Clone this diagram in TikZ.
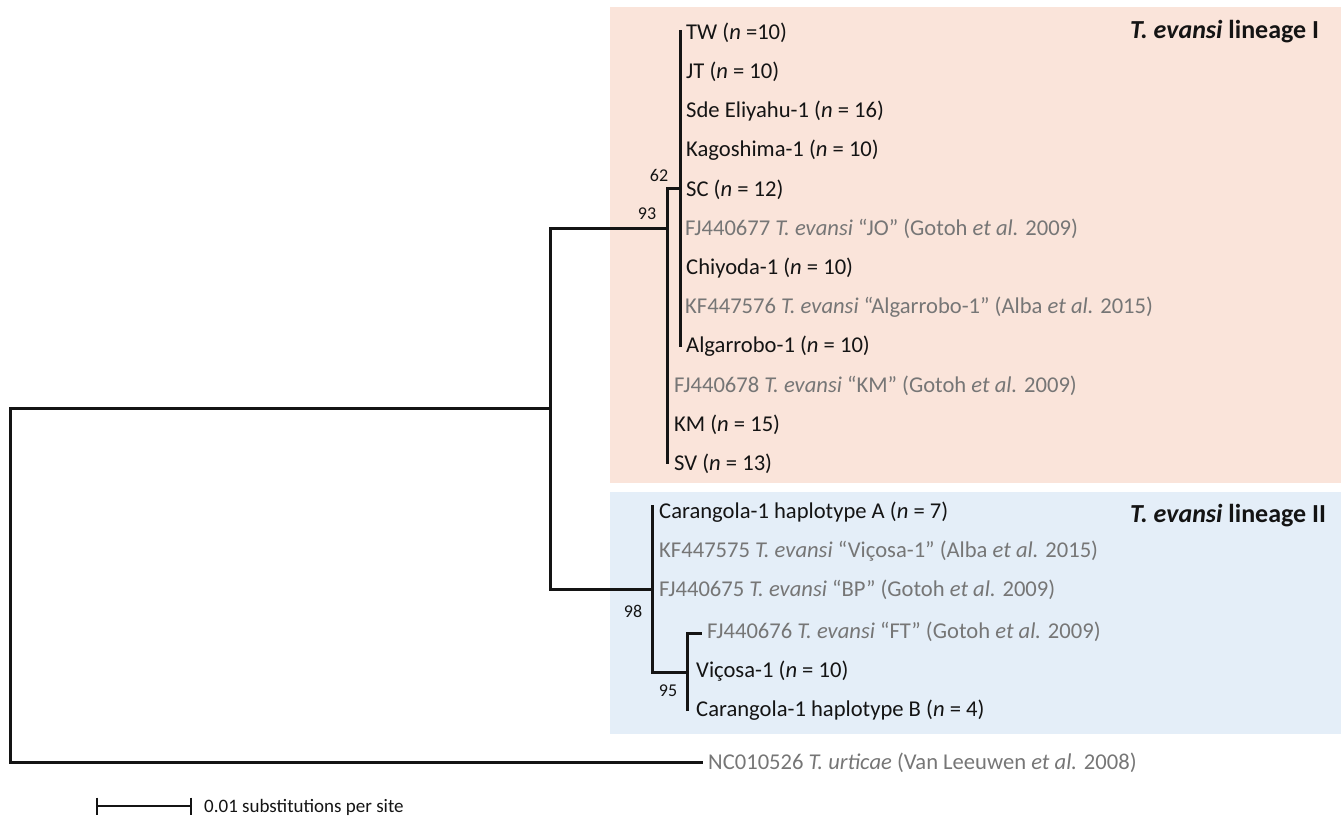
\documentclass[tikz,border=0pt]{standalone}
\usepackage{fontspec}
\setmainfont{Carlito}
\definecolor{pinkbg}{RGB}{250,228,218}
\definecolor{bluebg}{RGB}{228,238,248}
\definecolor{gtxt}{RGB}{118,118,118}
\definecolor{ktxt}{RGB}{20,20,20}
\begin{document}
\begin{tikzpicture}[x=1pt,y=-1pt,
  br/.style={line width=3pt, draw=ktxt},
  lab/.style={anchor=base west, inner sep=0pt, yshift=-7.2pt, font=\fontsize{22.6}{27}\selectfont, text=ktxt},
  glab/.style={lab, text=gtxt},
  boot/.style={inner sep=0pt, font=\fontsize{18}{21}\selectfont, text=ktxt},
  ttl/.style={anchor=base west, inner sep=0pt, font=\fontsize{26}{31}\selectfont\bfseries, text=ktxt}]
\useasboundingbox (0,0) rectangle (1341,820);
% clade backgrounds
\fill[pinkbg] (610,7) rectangle (1341,483);
\fill[bluebg] (610,492) rectangle (1341,734);
\node[ttl] (t1) at (1130,38) {\textit{T. evansi} lineage I};
\node[ttl] (t2) at (1130,522) {\textit{T. evansi} lineage II};

% lineage I
\coordinate (tTW) at (680,30);
\coordinate (tAlg) at (680,347);
\coordinate (n3) at (680,188.8);
\coordinate (n1) at (667,228);
\coordinate (tSV) at (667,464);
\coordinate (nA) at (550,408);
\coordinate (root) at (10,585);
\coordinate (tOG) at (703,762);
% lineage II
\coordinate (n2) at (652,589);
\coordinate (tCarA) at (652,505);
\coordinate (n4) at (687,672);
\coordinate (tCarB) at (687,711);
\coordinate (tFT) at (702,633);

\draw[br] (tTW) -- (tAlg);
\draw[br] (n3) -| (tSV);
\draw[br] (n1) -| (nA) |- (n2);
\draw[br] (nA) -| (root) |- (tOG);
\draw[br] (tCarA) |- (n4);
\draw[br] (tCarB) |- (tFT);

% leaf labels lineage I
\node[lab]  (L1)  at (686,32)    {TW (\textit{n} =10)};
\node[lab]  (L2)  at (686,71.2)  {JT (\textit{n} = 10)};
\node[lab]  (L3)  at (686,110.4) {Sde Eliyahu-1 (\textit{n} = 16)};
\node[lab]  (L4)  at (686,149.6) {Kagoshima-1 (\textit{n} = 10)};
\node[lab]  (L5)  at (686,188.8) {SC (\textit{n} = 12)};
\node[glab] (L6)  at (685,228)   {FJ440677 \textit{T. evansi} “JO” (Gotoh \textit{et al.} 2009)};
\node[lab]  (L7)  at (686,267.2) {Chiyoda-1 (\textit{n} = 10)};
\node[glab] (L8)  at (685,306.4) {KF447576 \textit{T. evansi} “Algarrobo-1” (Alba \textit{et al.} 2015)};
\node[lab]  (L9)  at (686,345.6) {Algarrobo-1 (\textit{n} = 10)};
\node[glab] (L10) at (674,384.8) {FJ440678 \textit{T. evansi} “KM” (Gotoh \textit{et al.} 2009)};
\node[lab]  (L11) at (674,424)   {KM (\textit{n} = 15)};
\node[lab]  (L12) at (674,463.2) {SV (\textit{n} = 13)};
% leaf labels lineage II
\node[lab]  (M1) at (659,511) {Carangola-1 haplotype A (\textit{n} = 7)};
\node[glab] (M2) at (659,550) {KF447575 \textit{T. evansi} “Viçosa-1” (Alba \textit{et al.} 2015)};
\node[glab] (M3) at (659,589) {FJ440675 \textit{T. evansi} “BP” (Gotoh \textit{et al.} 2009)};
\node[glab] (M4) at (707,631) {FJ440676 \textit{T. evansi} “FT” (Gotoh \textit{et al.} 2009)};
\node[lab]  (M5) at (696,670) {Viçosa-1 (\textit{n} = 10)};
\node[lab]  (M6) at (696,709) {Carangola-1 haplotype B (\textit{n} = 4)};
% outgroup
\node[glab] (OG) at (708,762) {NC010526 \textit{T. urticae} (Van Leeuwen \textit{et al.} 2008)};

% bootstrap values
\node[boot] (b62) at (659,175) {62};
\node[boot] (b93) at (647,214) {93};
\node[boot] (b98) at (633,611) {98};
\node[boot] (b95) at (668,691) {95};

% scale bar
\coordinate (s1) at (97,806);
\coordinate (s2) at (191,806);
\draw[line width=2.6pt, draw=ktxt] (s1) -- (s2);
\draw[line width=2.2pt, draw=ktxt] ([yshift=8.5pt]s1) -- ([yshift=-8.5pt]s1);
\draw[line width=2.2pt, draw=ktxt] ([yshift=8.5pt]s2) -- ([yshift=-8.5pt]s2);
\node[anchor=base west, inner sep=0pt, yshift=-6.2pt, font=\fontsize{19}{23}\selectfont, text=ktxt] (sbl) at (204,806) {0.01 substitutions per site};
\end{tikzpicture}
\end{document}
